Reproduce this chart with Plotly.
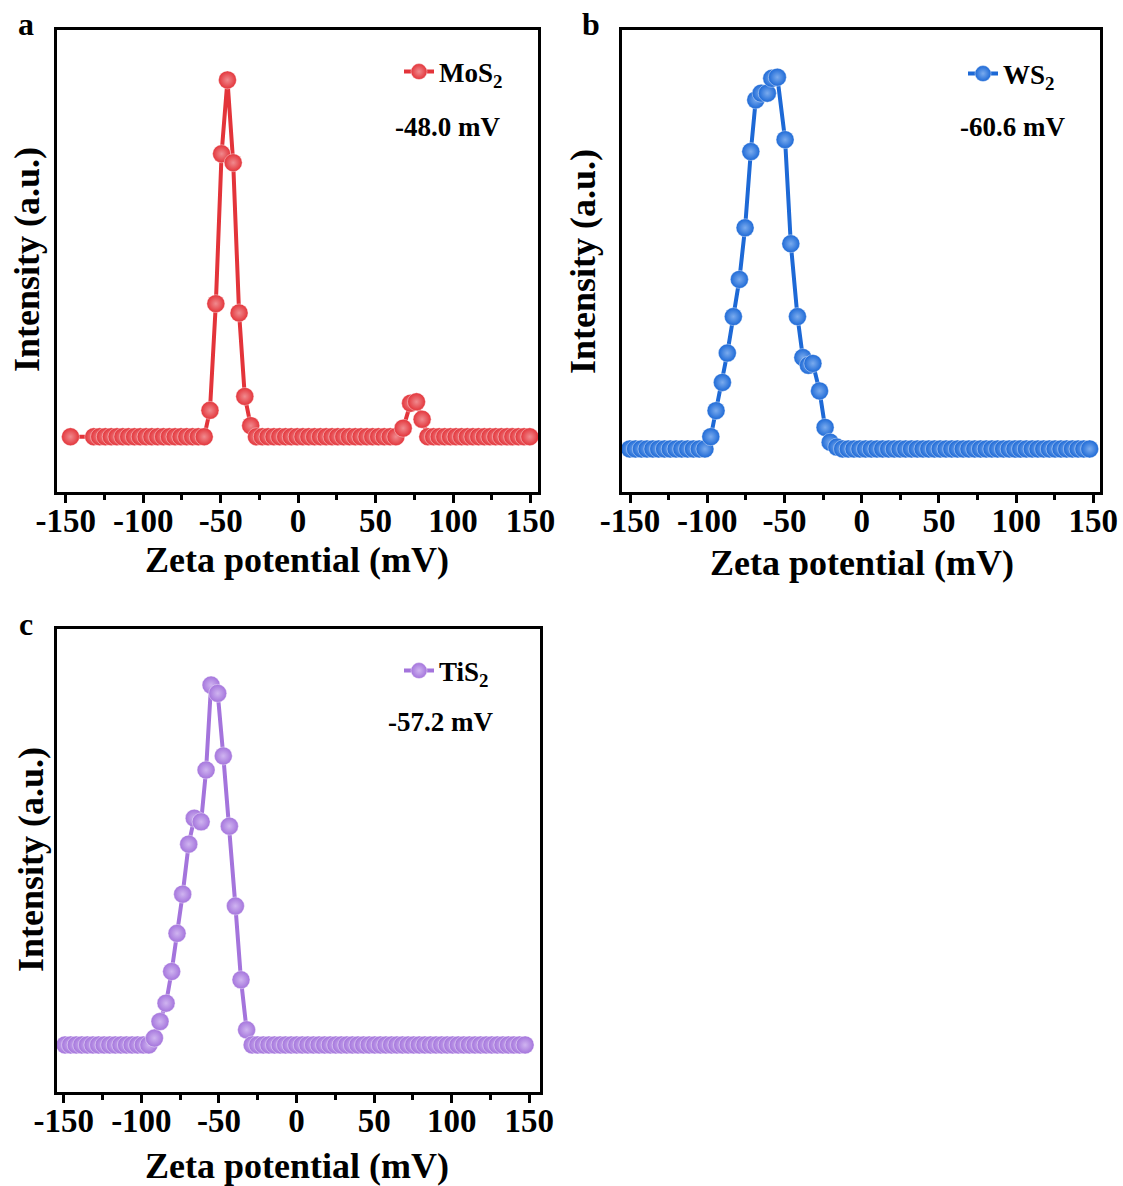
import plotly.graph_objects as go

W, H = 1123, 1186
FONT = "Liberation Serif"

# ---------------- data ----------------
# Panel a: MoS2
mos2_zeta = [
    -146.9, -131.9, -128.1, -124.4, -120.6, -116.9, -113.1, -109.4, -105.6, -101.9,
    -98.1, -94.4, -90.6, -86.9, -83.1, -79.4, -75.6, -71.9, -68.1, -64.4, -60.6,
    -56.9, -53.1, -49.4, -45.6, -41.9, -38.1, -34.4, -30.6,
    -26.9, -23.1, -19.4, -15.6, -11.9, -8.1, -4.4, -0.6, 3.1, 6.9, 10.6, 14.4, 18.1,
    21.9, 25.6, 29.4, 33.1, 36.9, 40.6, 44.4, 48.1, 51.9, 55.6, 59.4, 63.1,
    67.8, 72.6, 76.4, 80.0,
    83.7, 87.4, 91.0, 94.6, 98.3, 101.9, 105.5, 109.2, 112.8, 116.5, 120.2, 123.8,
    127.5, 131.2, 134.8, 138.5, 142.2, 145.8, 149.5,
]
mos2_intensity = [
    0, 0, 0, 0, 0, 0, 0, 0, 0, 0,
    0, 0, 0, 0, 0, 0, 0, 0, 0, 0, 0,
    7.4, 37.3, 79.3, 100.0, 76.8, 34.7, 11.3, 3.1,
    0, 0, 0, 0, 0, 0, 0, 0, 0, 0, 0, 0, 0,
    0, 0, 0, 0, 0, 0, 0, 0, 0, 0, 0, 0,
    2.4, 9.4, 9.8, 4.9,
    0, 0, 0, 0, 0, 0, 0, 0, 0, 0, 0, 0,
    0, 0, 0, 0, 0, 0, 0,
]

# Panel b: WS2
ws2_zeta = [
    -150.2, -146.5, -142.7, -139.0, -135.2, -131.5, -127.7, -124.0, -120.2, -116.5,
    -112.7, -109.0, -105.2, -101.5,
    -97.7, -94.3, -90.2, -87.0, -83.1, -79.2, -75.5, -71.8, -68.6, -65.1, -61.1,
    -58.2, -54.6, -49.6, -45.9, -41.6, -38.1, -34.5, -31.6, -27.3, -23.7, -20.4, -16.1,
    -12.4, -8.7, -5.0, -1.2, 2.5, 6.2, 9.9, 13.6, 17.4, 21.1, 24.8, 28.5, 32.2, 36.0,
    39.7, 43.4, 47.1, 50.8, 54.6, 58.3, 62.0, 65.7, 69.4, 73.2, 76.9, 80.6, 84.3,
    88.0, 91.8, 95.5, 99.2, 102.9, 106.6, 110.4, 114.1, 117.8, 121.5, 125.2, 129.0,
    132.7, 136.4, 140.1, 143.8, 147.6,
]
ws2_intensity = [
    0, 0, 0, 0, 0, 0, 0, 0, 0, 0,
    0, 0, 0, 0,
    3.3, 10.3, 17.9, 25.8, 35.6, 45.6, 59.5, 80.0, 93.9, 95.7, 95.7,
    99.7, 100.0, 83.2, 55.2, 35.6, 24.6, 22.5, 23.0, 15.6, 5.8, 1.8, 0.5,
    0, 0, 0, 0, 0, 0, 0, 0, 0, 0, 0, 0, 0, 0,
    0, 0, 0, 0, 0, 0, 0, 0, 0, 0, 0, 0, 0,
    0, 0, 0, 0, 0, 0, 0, 0, 0, 0, 0, 0,
    0, 0, 0, 0, 0,
]

# Panel c: TiS2
tis2_zeta = [
    -149.2, -145.6, -142.0, -138.4, -134.8, -131.2, -127.6, -124.0, -120.4, -116.8,
    -113.2, -109.6, -106.0, -102.4, -98.8, -95.2,
    -91.6, -88.0, -84.1, -80.5, -77.0, -73.4, -69.5, -65.9, -61.5, -58.3, -55.1,
    -50.8, -47.2, -43.3, -39.4, -35.8, -32.2,
    -28.6, -25.0, -21.4, -17.8, -14.2, -10.6, -7.1, -3.5, 0.1, 3.7, 7.3, 10.9, 14.5,
    18.1, 21.7, 25.3, 28.8, 32.4, 36.0, 39.6, 43.2, 46.8, 50.4, 54.0, 57.6, 61.2,
    64.7, 68.3, 71.9, 75.5, 79.1, 82.7, 86.3, 89.9, 93.5, 97.1, 100.6, 104.2, 107.8,
    111.4, 115.0, 118.6, 122.2, 125.8, 129.4, 133.0, 136.5, 140.1, 143.7, 147.3,
]
tis2_intensity = [
    0, 0, 0, 0, 0, 0, 0, 0, 0, 0,
    0, 0, 0, 0, 0, 0,
    1.9, 6.5, 11.6, 20.4, 31.0, 41.9, 55.8, 63.0, 62.0, 76.4, 100.0,
    97.7, 80.3, 60.8, 38.6, 18.1, 4.2,
    0, 0, 0, 0, 0, 0, 0, 0, 0, 0, 0, 0, 0,
    0, 0, 0, 0, 0, 0, 0, 0, 0, 0, 0, 0, 0,
    0, 0, 0, 0, 0, 0, 0, 0, 0, 0, 0, 0, 0,
    0, 0, 0, 0, 0, 0, 0, 0, 0, 0, 0,
]

x_ticks = [-150, -100, -50, 0, 50, 100, 150]
x_tick_labels = ["-150", "-100", "-50", "0", "50", "100", "150"]
x_minor_ticks = [-125, -75, -25, 25, 75, 125]
zeta_labels = ["-48.0 mV", "-60.6 mV", "-57.2 mV"]
sample_names = ["MoS<sub>2</sub>", "WS<sub>2</sub>", "TiS<sub>2</sub>"]
panel_letters = ["a", "b", "c"]

# ---------------- layout geometry (pixels) ----------------
def px_x(p):
    return p / W

def px_y(p):
    return 1 - p / H

panels = [
    dict(l=57, r=538, t=30, b=491.7, xr=[-155.6, 154.8], yr=[-15.4, 114.0],
         color="#E3343A", center="#F08A8E", x=mos2_zeta, y=mos2_intensity),
    dict(l=622, r=1100, t=30, b=491.7, xr=[-155.2, 154.3], yr=[-11.5, 112.7],
         color="#1D69D6", center="#7AABEE", x=ws2_zeta, y=ws2_intensity),
    dict(l=56.5, r=540, t=629.3, b=1091.7, xr=[-154.7, 156.9], yr=[-13.0, 115.5],
         color="#A474DC", center="#CFB4F0", x=tis2_zeta, y=tis2_intensity),
]

fig = go.Figure()
layout = dict(
    width=W, height=H, autosize=False,
    margin=dict(l=0, r=0, t=0, b=0, pad=0, autoexpand=False),
    paper_bgcolor="white", plot_bgcolor="white",
    showlegend=True,
    annotations=[],
)

legend_names = ["legend", "legend2", "legend3"]
legend_pos = [(399, 72), (963, 74), (399, 671)]
value_pos = [(447, 127), (1012, 127), (440, 722)]
ytitle_pos = [(27, 260), (583, 262), (31, 860)]
xtitle_pos = [(297, 560), (862, 563), (297, 1166)]
letter_pos = [(26, 24), (591, 24), (26, 624)]

for i, p in enumerate(panels):
    sfx = "" if i == 0 else str(i + 1)
    fig.add_trace(go.Scatter(
        x=p["x"], y=p["y"], mode="lines+markers",
        name=sample_names[i],
        xaxis="x" + sfx, yaxis="y" + sfx,
        legend=legend_names[i],
        line=dict(color=p["color"], width=4),
        marker=dict(size=18, color=p["color"],
                    gradient=dict(type="radial", color=p["center"]),
                    line=dict(width=0.8, color="rgba(255,255,255,0.5)")),
        cliponaxis=False,
    ))
    layout["xaxis" + sfx] = dict(
        domain=[px_x(p["l"]), px_x(p["r"])],
        anchor="y" + sfx, range=p["xr"], automargin=False,
        tickmode="array", tickvals=x_ticks, ticktext=x_tick_labels,
        ticks="outside", ticklen=8, tickwidth=2.5, tickcolor="black",
        minor=dict(ticks="outside", ticklen=5, tickwidth=2.5, tickcolor="black",
                   tickmode="array", tickvals=x_minor_ticks),
        showline=True, linewidth=3, linecolor="black", mirror=True,
        showgrid=False, zeroline=False,
        tickfont=dict(family=FONT, size=33, color="black", weight="bold"),
        ticklabelstandoff=-10,
    )
    layout["yaxis" + sfx] = dict(
        domain=[px_y(p["b"]), px_y(p["t"])],
        anchor="x" + sfx, range=p["yr"], automargin=False,
        showticklabels=False, ticks="",
        showline=True, linewidth=3, linecolor="black", mirror=True,
        showgrid=False, zeroline=False,
    )
    lx, ly = legend_pos[i]
    layout[legend_names[i]] = dict(
        x=px_x(lx), y=px_y(ly), xanchor="left", yanchor="middle",
        bgcolor="rgba(0,0,0,0)", borderwidth=0,
        font=dict(family=FONT, size=27, color="black", weight="bold"),
    )
    vx, vy = value_pos[i]
    layout["annotations"].append(dict(
        x=px_x(vx), y=px_y(vy), xref="paper", yref="paper", showarrow=False,
        text=zeta_labels[i], xanchor="center", yanchor="middle",
        font=dict(family=FONT, size=27, color="black", weight="bold"),
    ))
    tx, ty = ytitle_pos[i]
    layout["annotations"].append(dict(
        x=px_x(tx), y=px_y(ty), xref="paper", yref="paper", showarrow=False,
        text="Intensity (a.u.)", textangle=-90, xanchor="center", yanchor="middle",
        font=dict(family=FONT, size=36, color="black", weight="bold"),
    ))
    tx, ty = xtitle_pos[i]
    layout["annotations"].append(dict(
        x=px_x(tx), y=px_y(ty), xref="paper", yref="paper", showarrow=False,
        text="Zeta potential (mV)", xanchor="center", yanchor="middle",
        font=dict(family=FONT, size=36, color="black", weight="bold"),
    ))
    tx, ty = letter_pos[i]
    layout["annotations"].append(dict(
        x=px_x(tx), y=px_y(ty), xref="paper", yref="paper", showarrow=False,
        text=panel_letters[i], xanchor="center", yanchor="middle",
        font=dict(family=FONT, size=32, color="black", weight="bold"),
    ))

fig.update_layout(**layout)
fig.write_html(
    "out.html",
    config={"displayModeBar": False},
    post_script="document.body.style.margin='0';document.body.style.overflow='hidden';",
)
